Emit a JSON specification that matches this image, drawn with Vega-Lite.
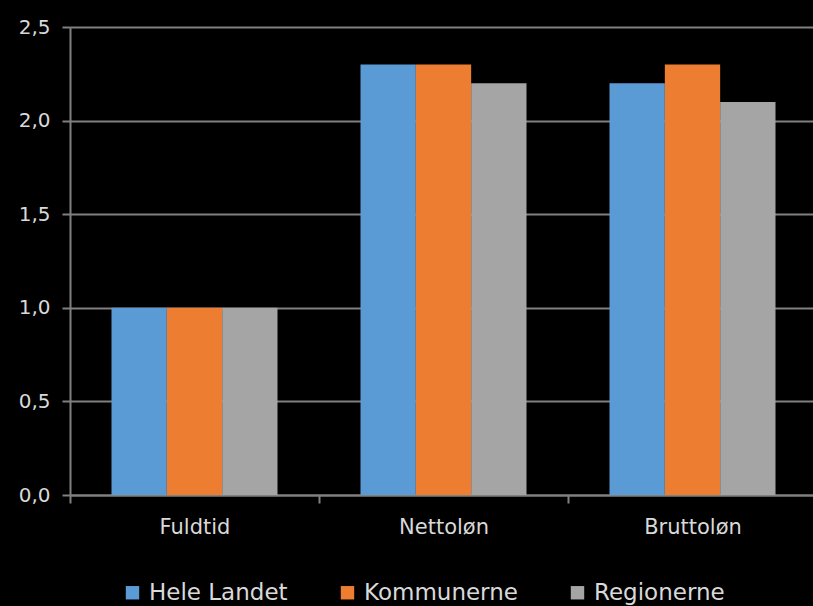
{
  "$schema": "https://vega.github.io/schema/vega-lite/v6.json",
  "width": 747,
  "height": 468,
  "autosize": {"type": "none"},
  "padding": {"left": 70, "top": 27, "right": 0, "bottom": 111},
  "background": "#000000",
  "data": {
    "values": [
      {"kategori": "Fuldtid", "serie": "Hele Landet", "vaerdi": 1.0},
      {"kategori": "Fuldtid", "serie": "Kommunerne", "vaerdi": 1.0},
      {"kategori": "Fuldtid", "serie": "Regionerne", "vaerdi": 1.0},
      {"kategori": "Nettoløn", "serie": "Hele Landet", "vaerdi": 2.3},
      {"kategori": "Nettoløn", "serie": "Kommunerne", "vaerdi": 2.3},
      {"kategori": "Nettoløn", "serie": "Regionerne", "vaerdi": 2.2},
      {"kategori": "Bruttoløn", "serie": "Hele Landet", "vaerdi": 2.2},
      {"kategori": "Bruttoløn", "serie": "Kommunerne", "vaerdi": 2.3},
      {"kategori": "Bruttoløn", "serie": "Regionerne", "vaerdi": 2.1}
    ]
  },
  "mark": {"type": "bar"},
  "encoding": {
    "x": {
      "field": "kategori",
      "type": "nominal",
      "sort": ["Fuldtid", "Nettoløn", "Bruttoløn"],
      "scale": {"paddingInner": 0, "paddingOuter": 0},
      "axis": {
        "title": null,
        "labelAngle": 0,
        "labelFont": "DejaVu Sans",
        "labelFontSize": 21,
        "labelColor": "#d9d9d9",
        "labelPadding": 13,
        "tickBand": "extent",
        "ticks": true,
        "tickSize": 8,
        "tickColor": "#808080",
        "tickWidth": 2,
        "domainColor": "#808080",
        "domainWidth": 2,
        "grid": false
      }
    },
    "xOffset": {
      "field": "serie",
      "type": "nominal",
      "sort": ["Hele Landet", "Kommunerne", "Regionerne"],
      "scale": {"paddingOuter": 0.75, "paddingInner": 0}
    },
    "y": {
      "field": "vaerdi",
      "type": "quantitative",
      "scale": {"domain": [0, 2.5], "nice": false},
      "axis": {
        "title": null,
        "values": [0, 0.5, 1, 1.5, 2, 2.5],
        "labelExpr": "replace(format(datum.value, '.1f'), '.', ',')",
        "labelFont": "DejaVu Sans",
        "labelFontSize": 20,
        "labelColor": "#d9d9d9",
        "labelPadding": 12,
        "tickSize": 8,
        "tickColor": "#808080",
        "tickWidth": 2,
        "domainColor": "#808080",
        "domainWidth": 2,
        "grid": true,
        "gridColor": "#808080",
        "gridWidth": 2
      }
    },
    "color": {
      "field": "serie",
      "type": "nominal",
      "sort": ["Hele Landet", "Kommunerne", "Regionerne"],
      "scale": {
        "domain": ["Hele Landet", "Kommunerne", "Regionerne"],
        "range": ["#5b9bd5", "#ed7d31", "#a5a5a5"]
      },
      "legend": {
        "title": null,
        "orient": "none",
        "legendX": 51,
        "legendY": 554,
        "direction": "horizontal",
        "symbolType": "square",
        "symbolSize": 180,
        "symbolStrokeWidth": 0,
        "labelFont": "DejaVu Sans",
        "labelFontSize": 23,
        "labelColor": "#d9d9d9",
        "labelOffset": 5,
        "columnPadding": 48,
        "labelLimit": 300
      }
    }
  },
  "config": {
    "view": {"stroke": null}
  }
}
